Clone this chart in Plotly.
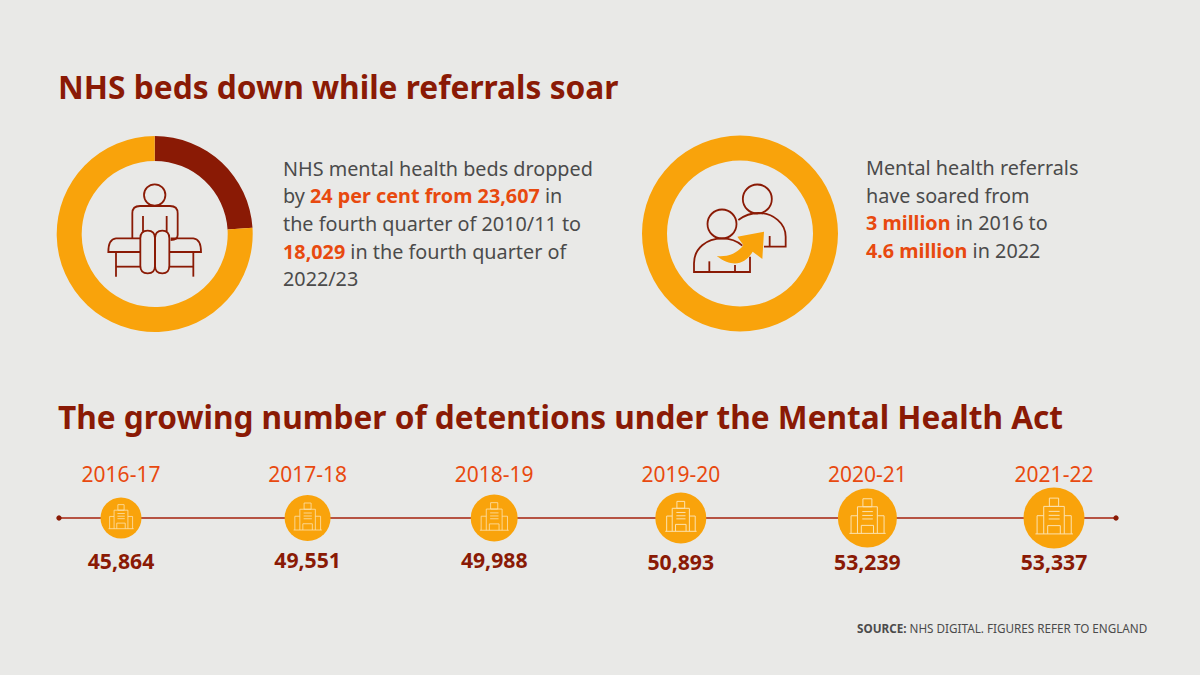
import re
import plotly.graph_objects as go

# ---- data ----
years = ["2016-17", "2017-18", "2018-19", "2019-20", "2020-21", "2021-22"]
detentions = [45864, 49551, 49988, 50893, 53239, 53337]
bed_slices = [24, 76]
ring_slices = [100]

# ---- style ----
BG = "#E9E9E7"
DARK = "#8A1A05"
AMBER = "#F9A30B"
HOT = "#E8490F"
GREY = "#4B4B4B"
PALE = "#FCE2AE"
FONT = "Noto Sans"
bubble_sizes = [41, 46, 47, 51, 59, 61]
label_y = [564, 563, 563, 565, 565, 565]
X0, STEP, LINE_Y = 121, 186.6, 518

fig = go.Figure()


def dom(cx, cy, r):
    return dict(x=[(cx - r) / 1200, (cx + r) / 1200], y=[1 - (cy + r) / 675, 1 - (cy - r) / 675])


fig.add_trace(go.Pie(values=bed_slices, hole=0.745, sort=False, direction="clockwise", rotation=0,
                     marker=dict(colors=[DARK, AMBER], line=dict(width=0)), textinfo="none",
                     showlegend=False, domain=dom(154.7, 234, 98)))
fig.add_trace(go.Pie(values=ring_slices, hole=0.745, sort=False,
                     marker=dict(colors=[AMBER], line=dict(width=0)), textinfo="none",
                     showlegend=False, domain=dom(740, 233.5, 98)))

# timeline bubbles and labels on a category axis
fig.add_trace(go.Scatter(x=years, y=[LINE_Y] * 6, xaxis="x2", yaxis="y", mode="markers",
                         marker=dict(size=bubble_sizes, color=AMBER, opacity=1, line=dict(width=0)),
                         showlegend=False, hoverinfo="skip"))
fig.add_trace(go.Scatter(x=years, y=[477] * 6, xaxis="x2", yaxis="y", mode="text", text=years,
                         textfont=dict(family=FONT, size=21, color=HOT), showlegend=False, hoverinfo="skip"))
fig.add_trace(go.Scatter(x=years, y=label_y, xaxis="x2", yaxis="y", mode="text",
                         text=[f"<b>{v:,}</b>" for v in detentions],
                         textfont=dict(family=FONT, size=21.2, color=DARK), showlegend=False, hoverinfo="skip"))

shapes = []


def line_shape(path, ox, oy, k=1 / 3, color=DARK, width=1.8, fill=None):
    def rep(m):
        return f"{ox + float(m.group(1)) * k:.2f},{oy + float(m.group(2)) * k:.2f}"
    p = re.sub(r"(-?[\d.]+),(-?[\d.]+)", rep, path)
    d = dict(type="path", path=p, xref="x", yref="y", layer="above")
    d["line"] = dict(color=color, width=width) if width else dict(width=0)
    if fill:
        d["fillcolor"] = fill
    shapes.append(d)


def circle(cx, cy, r, color=DARK, width=1.8):
    shapes.append(dict(type="circle", xref="x", yref="y", x0=cx - r, x1=cx + r, y0=cy - r, y1=cy + r,
                       line=dict(color=color, width=width), layer="above"))


# timeline rule
shapes.append(dict(type="line", xref="x", yref="y", x0=59, x1=1116, y0=LINE_Y, y1=LINE_Y,
                   line=dict(color="#A5200C", width=1.5), layer="below"))
for ex in (59, 1116):
    circle(ex, LINE_Y, 2.2, color=DARK, width=1)
    shapes[-1]["fillcolor"] = DARK

# patient on couch icon (zoom coordinates: origin 40,120, scale 1/3)
o = (40, 120)
circle(154.7, 195, 10.7)
for p in [
    "M 277,355 L 277,280 Q 277,258 300,258 L 390,258 Q 413,258 413,280 L 413,345 Q 413,360 392,360",
    "M 300,355 L 228,355 Q 205,357 205,396 L 300,396",
    "M 392,355 L 460,355 Q 483,357 483,396 L 388,396",
    "M 301,355 Q 301,332 323,332 Q 345,332 345,355 L 345,437 Q 345,460 323,460 Q 301,460 301,437 Z",
    "M 345,355 Q 345,332 367,332 Q 388,332 388,355 L 388,437 Q 388,460 367,460 Q 345,460 345,437 Z",
    "M 228,396 L 228,470", "M 460,396 L 460,470", "M 228,440 L 300,440", "M 388,440 L 460,440",
    "M 309,288 L 309,335", "M 380,288 L 380,335",
]:
    line_shape(p, *o)

# people with rising arrow icon (origin 630,120, scale 1/3)
o = (630, 120)
circle(630 + 382 / 3, 120 + 237 / 3, 14.5)
circle(630 + 276 / 3, 120 + 312 / 3, 14.5)
for p in [
    "M 325,300 C 345,285 365,279 385,279 C 430,279 467,310 467,350 L 467,380 L 402,380",
    "M 419,348 L 419,380",
    "M 337,377 C 322,363 300,355 276,355 C 230,355 192,385 192,430 L 192,456 L 360,456 L 360,410",
    "M 238,424 L 238,456", "M 315,435 L 315,456",
]:
    line_shape(p, *o)
line_shape("M 260,408 C 295,412 325,398 340,375 L 322,350 L 402,335 L 397,417 L 368,395 "
           "C 350,425 315,450 260,408 Z", *o, color=AMBER, width=0, fill=AMBER)

# hospital icons inside the bubbles, scaled to each bubble
for i, d in enumerate(bubble_sizes):
    cx = X0 + STEP * i
    k = (d / 2) / 92
    ox, oy = cx - 191 * k, LINE_Y - 115 * k
    w = 1.0 if d > 50 else 0.8
    for p in [
        "M 177,55 L 205,55 L 205,80 L 177,80 Z",
        "M 160,163 L 160,80 L 222,80 L 222,163",
        "M 160,108 L 140,108 L 140,163", "M 222,108 L 243,108 L 243,163",
        "M 135,163 L 248,163", "M 172,163 L 172,138 L 210,138 L 210,163",
        "M 175,95 L 208,95", "M 175,107 L 208,107", "M 175,118 L 208,118",
    ]:
        line_shape(p, ox, oy, k=k, color=PALE, width=w)


def hot(s):
    return f'<b><span style="color:{HOT}">{s}</span></b>'


annotations = []


def txt(x, y, text, size, color, align="left", anchor="left"):
    annotations.append(dict(x=x, y=y, xref="x", yref="y", text=text, showarrow=False, xanchor=anchor,
                            yanchor="middle", align=align, font=dict(family=FONT, size=size, color=color)))


txt(55.5, 86, "<b>NHS beds down while referrals soar</b>", 31.7, DARK)
txt(55.5, 416, "<b>The growing number of detentions under the Mental Health Act</b>", 31.6, DARK)
body1 = [
    "NHS mental health beds dropped",
    f"by {hot('24 per cent from 23,607')} in",
    "the fourth quarter of 2010/11 to",
    f"{hot('18,029')} in the fourth quarter of",
    "2022/23",
]
for j, s in enumerate(body1):
    txt(281, 168 + j * 27.7, s, 19.8, GREY)
body2 = [
    "Mental health referrals",
    "have soared from",
    f"{hot('3 million')} in 2016 to",
    f"{hot('4.6 million')} in 2022",
]
for j, s in enumerate(body2):
    txt(864, 167.5 + j * 27.7, s, 19.8, GREY)
txt(1149, 628, "<b>SOURCE:</b> NHS DIGITAL. FIGURES REFER TO ENGLAND", 11.7, GREY, align="right", anchor="right")

axis_off = dict(visible=False, showgrid=False, zeroline=False, fixedrange=True)
fig.update_layout(
    width=1200, height=675, margin=dict(l=0, r=0, t=0, b=0),
    paper_bgcolor=BG, plot_bgcolor="rgba(0,0,0,0)", showlegend=False,
    xaxis=dict(range=[0, 1200], domain=[0, 1], **axis_off),
    xaxis2=dict(type="category", categoryorder="array", categoryarray=years, overlaying="x",
                range=[-X0 / STEP, (1200 - X0) / STEP], **axis_off),
    yaxis=dict(range=[675, 0], domain=[0, 1], **axis_off),
    shapes=shapes, annotations=annotations,
)
fig.write_html("out.html", config=dict(displayModeBar=False),
               post_script="document.body.style.margin='0';document.body.style.background='%s';" % BG)
